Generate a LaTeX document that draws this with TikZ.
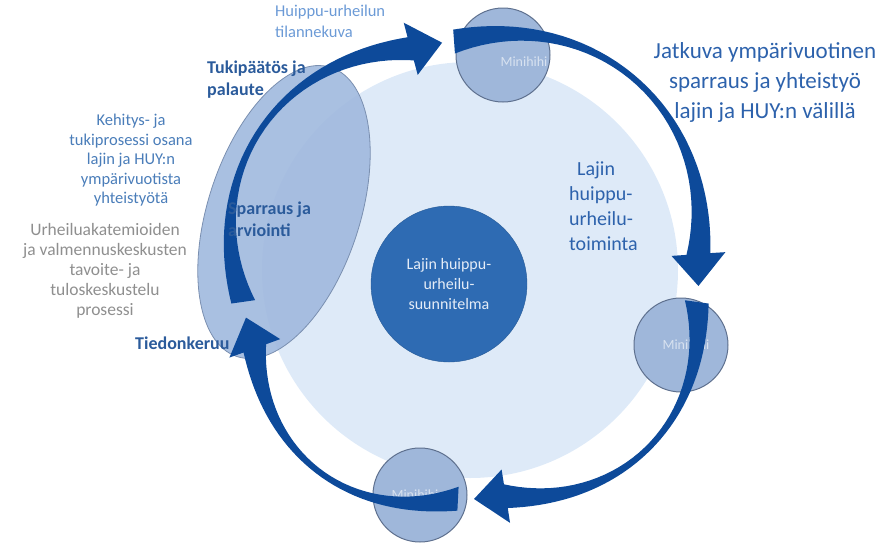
\documentclass[tikz,border=0pt]{standalone}
\usepackage{fontspec}
\setmainfont{Carlito}
\usepackage{tikz}
\usetikzlibrary{positioning}
\tikzset{>=latex}

\definecolor{bgcircle}{HTML}{DEEAF8}
\definecolor{ovalfill}{HTML}{A0B9DE}
\definecolor{ovaledge}{HTML}{7A8FB0}
\definecolor{minifill}{HTML}{9FB7DA}
\definecolor{miniedge}{HTML}{5E708E}
\definecolor{minitext}{HTML}{D8E2F0}
\definecolor{corefill}{HTML}{2E6BB3}
\definecolor{coretext}{HTML}{E4ECF7}
\definecolor{cycleblue}{HTML}{0D4A9A}
\definecolor{labelblue}{HTML}{2B5B9B}
\definecolor{skyblue}{HTML}{6B9AD6}
\definecolor{midblue}{HTML}{4A7DB9}
\definecolor{textblue}{HTML}{2D62AC}
\definecolor{softgray}{HTML}{8F8F8F}

\tikzset{
  minicircle/.style={circle, draw=miniedge, fill=minifill, line width=1pt,
    minimum size=94pt, inner sep=0pt},
  minilabel/.style={text=minitext, font=\fontsize{14}{16}\selectfont},
  boldlabel/.style={text=labelblue, font=\bfseries\fontsize{18}{22}\selectfont,
    align=left, anchor=north west, inner sep=0pt},
  sidenote/.style={align=center, anchor=north, inner sep=0pt}
}

\begin{document}
\begin{tikzpicture}[x=1pt, y=-1pt]
  % --- Definitions ---
  \def\cx{470} % centre of the cycle
  \def\cy{270}
  \useasboundingbox (0,0) rectangle (887,547);

  % --- 1. Background circle and the oval ---
  \fill[bgcircle] (\cx,\cy) circle (208);
  \draw[ovaledge, fill=ovalfill, fill opacity=0.9, line width=0.8pt]
    (284,212) ellipse [x radius=76, y radius=152, rotate=-18];

  % --- 2. Central plan ---
  \node[circle, fill=corefill, draw=corefill!85!black, minimum size=156pt, inner sep=0pt,
        text=coretext, align=center, font=\fontsize{16}{20}\selectfont]
    (plan) at (449,284) {Lajin huippu-\\urheilu-\\suunnitelma};

  % --- 3. Small circles on the cycle ---
  \node[minicircle] (miniTop) at (503,55) {};
  \node[minicircle] (miniRight) at (681,345) {};
  \node[minicircle] (miniBottom) at (420,495) {};
  \node[minilabel] (miniTopText) at (524,62) {Minihihi};
  \node[minilabel] (miniRightText) at (686,345) {Minihihi};
  \node[minilabel] (miniBottomText) at (415,495) {Minihihi};

  % --- 4. Tapering cycle arrows ---
  % tail angle / end of shaft / tip angle (clockwise on screen)
  \foreach \ta/\th/\tb in {172/255/263, 266/356/364, 8/81/89, 93/160/168} {
    \fill[cycleblue]
      plot[domain=0:1, samples=40, variable=\s]
        ({\cx+(229+23*sin(180*\s)+(6+18*(1-2*\s)^2)/2)*cos(\ta+(\th-\ta)*\s)},
         {\cy+(229+23*sin(180*\s)+(6+18*(1-2*\s)^2)/2)*sin(\ta+(\th-\ta)*\s)})
      -- ({\cx+256*cos(\th)},{\cy+256*sin(\th)})
      -- ({\cx+229*cos(\tb)},{\cy+229*sin(\tb)})
      -- ({\cx+202*cos(\th)},{\cy+202*sin(\th)})
      -- plot[domain=1:0, samples=40, variable=\s]
        ({\cx+(229+23*sin(180*\s)-(6+18*(1-2*\s)^2)/2)*cos(\ta+(\th-\ta)*\s)},
         {\cy+(229+23*sin(180*\s)-(6+18*(1-2*\s)^2)/2)*sin(\ta+(\th-\ta)*\s)})
      -- cycle;
  }

  % --- 5. Labels ---
  \node[text=skyblue, font=\fontsize{16.5}{21}\selectfont, align=left, anchor=north west, inner sep=0pt]
    (situation) at (275,5) {Huippu-urheilun\\tilannekuva};
  \node[boldlabel] (decision) at (207,61) {Tukipäätös ja\\palaute};
  \node[sidenote, text=midblue, font=\fontsize{16.5}{19.5}\selectfont] (process) at (131,114)
    {Kehitys- ja\\tukiprosessi osana\\lajin ja HUY:n\\ympärivuotista\\yhteistyötä};
  \node[sidenote, text=softgray, font=\fontsize{17.5}{20}\selectfont] (academies) at (105,223)
    {Urheiluakatemioiden\\ja valmennuskeskusten\\tavoite- ja\\tuloskeskustelu\\prosessi};
  \node[boldlabel] (sparring) at (228,202) {Sparraus ja\\arviointi};
  \node[boldlabel] (gathering) at (135,337) {Tiedonkeruu};
  \node[text=textblue, font=\fontsize{23}{30}\selectfont, align=center, anchor=north, inner sep=0pt]
    (continuous) at (765,42) {Jatkuva ympärivuotinen\\sparraus ja yhteistyö\\lajin ja HUY:n välillä};
  \node[text=textblue, font=\fontsize{20}{25}\selectfont, align=left, anchor=north west, inner sep=0pt]
    (activity) at (569,162) {\hspace*{8pt}Lajin\\huippu-\\urheilu-\\toiminta};
\end{tikzpicture}
\end{document}
